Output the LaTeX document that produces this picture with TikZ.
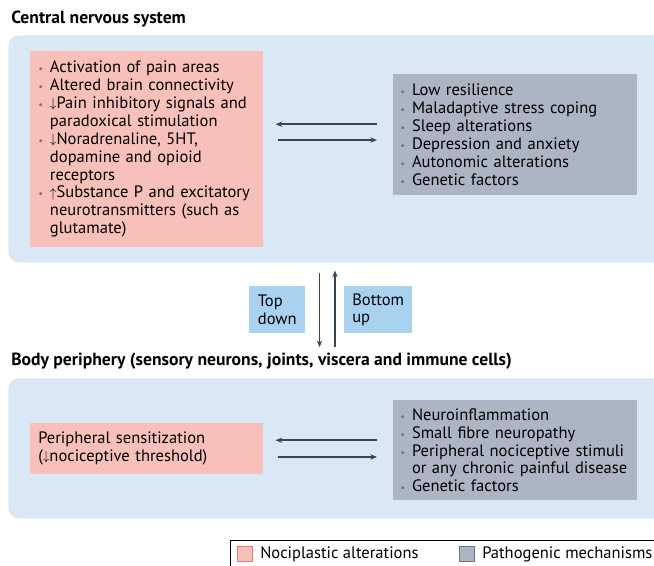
\documentclass[tikz,border=0pt]{standalone}
\usepackage{fontspec}
\setmainfont{PT Sans}
\usetikzlibrary{arrows.meta}
\definecolor{panel}{RGB}{218,232,246}
\definecolor{nocip}{RGB}{248,192,186}
\definecolor{nocipedge}{RGB}{232,120,112}
\definecolor{patho}{RGB}{171,181,196}
\definecolor{pathoedge}{RGB}{100,116,138}
\definecolor{flow}{RGB}{168,210,240}
\definecolor{arrowc}{RGB}{58,70,80}
\definecolor{dotc}{RGB}{120,120,120}
\newcommand{\itm}{\makebox[8.8pt][l]{\textcolor{dotc}{\footnotesize\textbullet}}}
\newcommand{\cnt}{\hspace*{8.8pt}}
\newcommand{\dn}{\raisebox{0.6pt}{\scalebox{0.82}{$\downarrow$}}}
\newcommand{\up}{\raisebox{0.2pt}{\scalebox{0.82}{$\uparrow$}}}

\begin{document}
\begin{tikzpicture}[x=0.75pt,y=-0.75pt,
  every node/.style={inner sep=0pt,font=\fontsize{12.4}{13.4}\selectfont},
  panelbox/.style={fill=panel,rounded corners=8pt,anchor=north west,minimum width=519pt},
  nocipbox/.style={fill=nocip,align=left,inner xsep=6pt,text width=162.75pt,anchor=north west},
  pathobox/.style={fill=patho,align=left,inner xsep=5.25pt,text width=172.5pt,anchor=north west},
  flowbox/.style={fill=flow,align=left,inner xsep=6pt,anchor=north west,minimum height=35.25pt},
  heading/.style={anchor=west,font=\fontsize{13.2}{15}\selectfont\bfseries},
  arr/.style={arrowc,line width=1.2pt,-{Stealth[length=5pt,width=4pt]}},
  swatch/.style={minimum size=11.5pt,line width=0.8pt}]
\useasboundingbox (0,0) rectangle (654,565);
\clip (0,0) rectangle (654,565);

% central nervous system
\node[heading] (cnsT) at (11,19) {Central nervous system};
\node[panelbox,minimum height=170.25pt] (cns) at (8,35) {};
\node[nocipbox,minimum height=147pt] (cnsA) at (30,51) {%
\itm Activation of pain areas\\
\itm Altered brain connectivity\\
\itm \dn Pain inhibitory signals and\\
\cnt paradoxical stimulation\\
\itm \dn Noradrenaline, 5HT,\\
\cnt dopamine and opioid\\
\cnt receptors\\
\itm \up Substance P and excitatory\\
\cnt neurotransmitters (such as\\
\cnt glutamate)};
\node[pathobox,minimum height=90.75pt] (cnsB) at (393,74) {%
\itm Low resilience\\
\itm Maladaptive stress coping\\
\itm Sleep alterations\\
\itm Depression and anxiety\\
\itm Autonomic alterations\\
\itm Genetic factors};
\draw[arr,shorten <=12pt,shorten >=9pt] ([yshift=7.9pt]cnsB.west) -- ([yshift=7.9pt]cnsB.west -| cnsA.east);
\draw[arr,shorten <=10.5pt,shorten >=12pt] ([yshift=-4pt]cnsB.west -| cnsA.east) -- ([yshift=-4pt]cnsB.west);

% top down / bottom up
\node[flowbox,minimum width=42pt] (td) at (249,286) {Top\\down};
\node[flowbox,minimum width=49.5pt] (bu) at (344,286) {Bottom\\up};

% body periphery
\node[heading] (bpT) at (11,361) {Body periphery (sensory neurons, joints, viscera and immune cells)};
\node[panelbox,minimum height=105pt] (bp) at (8,378) {};
\node[nocipbox,minimum height=38.25pt] (bpA) at (30,423) {%
Peripheral sensitization\\
(\dn nociceptive threshold)};
\node[pathobox,minimum height=75pt] (bpB) at (393,400) {%
\itm Neuroinflammation\\
\itm Small fibre neuropathy\\
\itm Peripheral nociceptive stimuli\\
\cnt or any chronic painful disease\\
\itm Genetic factors};
\draw[arr,shorten <=12pt,shorten >=9pt] ([yshift=7.5pt]bpB.west) -- ([yshift=7.5pt]bpB.west -| bpA.east);
\draw[arr,shorten <=10.5pt,shorten >=12pt] ([yshift=-5pt]bpB.west -| bpA.east) -- ([yshift=-5pt]bpB.west);

\draw[arr,shorten <=7.5pt,shorten >=4pt] ([xshift=10.5pt]td.east |- cns.south) -- ([xshift=10.5pt]td.east |- bpT.north);
\draw[arr,shorten <=4pt,shorten >=6pt] ([xshift=-6.75pt]bu.west |- bpT.north) -- ([xshift=-6.75pt]bu.west |- cns.south);

% legend
\draw[black,line width=0.5pt] (230,540) rectangle (700,600);
\node[swatch,draw=nocipedge,fill=nocip] (lgA) at (245,554) {};
\node[anchor=west] (lgAT) at (260,554) {Nociplastic alterations};
\node[swatch,draw=pathoedge,fill=patho] (lgB) at (467,554) {};
\node[anchor=west] (lgBT) at (482,554) {Pathogenic mechanisms};
\end{tikzpicture}
\end{document}
